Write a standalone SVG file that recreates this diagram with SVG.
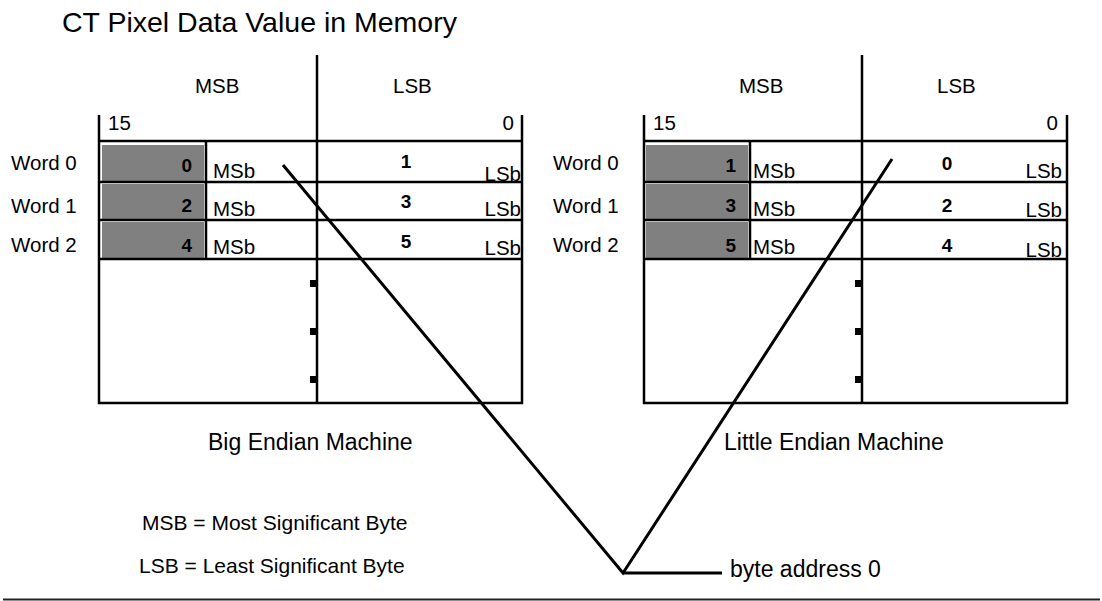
<svg xmlns="http://www.w3.org/2000/svg" width="1102" height="601" viewBox="0 0 1102 601">
  <style>
    text { font-family: "Liberation Sans", Arial, sans-serif; fill: #000; }
    .title { font-size: 28.5px; }
    .lbl { font-size: 20.5px; }
    .num { font-size: 19px; font-weight: bold; }
    .cap { font-size: 23px; }
    .legend { font-size: 21px; }
    .grid { stroke: #000; stroke-width: 2.5; fill: none; }
    .cell { fill: #808080; }
    .tick { fill: #000; }
    .wire { stroke: #000; stroke-width: 3; fill: none; stroke-linecap: butt; stroke-linejoin: miter; }
  </style>

  <text class="title" x="62" y="32">CT Pixel Data Value in Memory</text>

  <!-- Big endian memory layout -->
  <g id="big-endian">
    <rect class="cell" x="102" y="145" width="102" height="36"/>
    <rect class="cell" x="102" y="184" width="102" height="35"/>
    <rect class="cell" x="102" y="222" width="102" height="36"/>
    <path class="grid" d="M99 115V403H522V115M317 55V403M99 141H522M99 182H522M99 220H522M99 259H522M206 141V259"/>
    <rect class="tick" x="310" y="280" width="7" height="7"/>
    <rect class="tick" x="310" y="328" width="7" height="7"/>
    <rect class="tick" x="310" y="376" width="7" height="7"/>
    <text class="lbl" x="195" y="93">MSB</text>
    <text class="lbl" x="393" y="93">LSB</text>
    <text class="lbl" x="108" y="130">15</text>
    <text class="lbl" x="514" y="130" text-anchor="end">0</text>
    <text class="lbl" x="11" y="170">Word 0</text>
    <text class="lbl" x="11" y="213">Word 1</text>
    <text class="lbl" x="11" y="252">Word 2</text>
    <text class="num" x="192" y="172" text-anchor="end">0</text>
    <text class="num" x="192" y="212" text-anchor="end">2</text>
    <text class="num" x="192" y="252" text-anchor="end">4</text>
    <text class="lbl" x="213" y="178">MSb</text>
    <text class="lbl" x="213" y="216">MSb</text>
    <text class="lbl" x="213" y="254">MSb</text>
    <text class="num" x="406" y="168" text-anchor="middle">1</text>
    <text class="num" x="406" y="208" text-anchor="middle">3</text>
    <text class="num" x="406" y="248" text-anchor="middle">5</text>
    <text class="lbl" x="521" y="181" text-anchor="end">LSb</text>
    <text class="lbl" x="521" y="216" text-anchor="end">LSb</text>
    <text class="lbl" x="521" y="255" text-anchor="end">LSb</text>
    <text class="cap" x="208" y="450">Big Endian Machine</text>
  </g>

  <!-- Little endian memory layout -->
  <g id="little-endian">
    <rect class="cell" x="646" y="145" width="102" height="36"/>
    <rect class="cell" x="646" y="184" width="102" height="35"/>
    <rect class="cell" x="646" y="222" width="102" height="36"/>
    <path class="grid" d="M644 115V403H1067V115M862 55V403M644 141H1067M644 182H1067M644 220H1067M644 259H1067M750 141V259"/>
    <rect class="tick" x="855" y="280" width="7" height="7"/>
    <rect class="tick" x="855" y="328" width="7" height="7"/>
    <rect class="tick" x="855" y="376" width="7" height="7"/>
    <text class="lbl" x="739" y="93">MSB</text>
    <text class="lbl" x="937" y="93">LSB</text>
    <text class="lbl" x="653" y="130">15</text>
    <text class="lbl" x="1058" y="130" text-anchor="end">0</text>
    <text class="lbl" x="553" y="170">Word 0</text>
    <text class="lbl" x="553" y="213">Word 1</text>
    <text class="lbl" x="553" y="252">Word 2</text>
    <text class="num" x="736" y="172" text-anchor="end">1</text>
    <text class="num" x="736" y="212" text-anchor="end">3</text>
    <text class="num" x="736" y="252" text-anchor="end">5</text>
    <text class="lbl" x="753" y="178">MSb</text>
    <text class="lbl" x="753" y="216">MSb</text>
    <text class="lbl" x="753" y="254">MSb</text>
    <text class="num" x="947" y="170" text-anchor="middle">0</text>
    <text class="num" x="947" y="212" text-anchor="middle">2</text>
    <text class="num" x="947" y="252" text-anchor="middle">4</text>
    <text class="lbl" x="1062" y="178" text-anchor="end">LSb</text>
    <text class="lbl" x="1062" y="217" text-anchor="end">LSb</text>
    <text class="lbl" x="1062" y="257" text-anchor="end">LSb</text>
    <text class="cap" x="724" y="450">Little Endian Machine</text>
  </g>

  <!-- byte address 0 pointer -->
  <g id="connectors">
    <path class="wire" d="M283 165L623 573L892 159M623 573H722"/>
  </g>
  <g id="byte-address">
    <text class="cap" x="730" y="577">byte address 0</text>
  </g>

  <g id="legend">
    <text class="legend" x="142" y="530">MSB = Most Significant Byte</text>
    <text class="legend" x="139" y="573">LSB = Least Significant Byte</text>
  </g>

  <line x1="3" y1="599.5" x2="1100" y2="599.5" stroke="#222" stroke-width="2"/>
</svg>
